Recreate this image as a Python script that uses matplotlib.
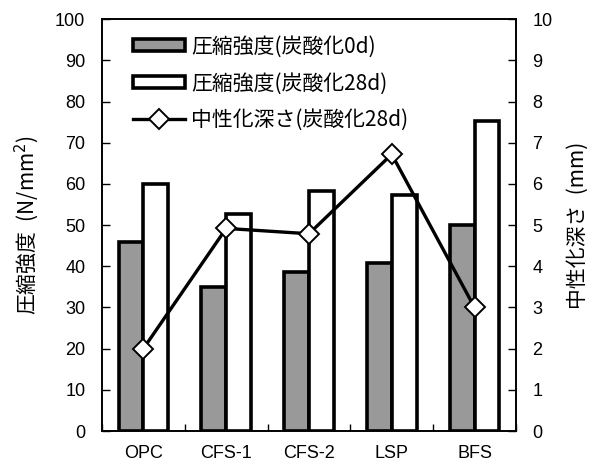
import matplotlib
matplotlib.use('Agg')
import matplotlib.pyplot as plt
import numpy as np

plt.rcParams['font.family'] = ['Noto Sans CJK JP', 'DejaVu Sans']

categories = ['OPC', 'CFS-1', 'CFS-2', 'LSP', 'BFS']
strength_0d = [46.0, 35.0, 38.7, 40.9, 50.1]
strength_28d = [60.1, 52.8, 58.3, 57.3, 75.3]
depth_28d = [2.0, 4.92, 4.79, 6.72, 3.0]

label_0d = '圧縮強度(炭酸化0d)'
label_28d = '圧縮強度(炭酸化28d)'
label_depth = '中性化深さ(炭酸化28d)'

x = np.arange(len(categories))
w = 0.30

fig = plt.figure(figsize=(5.93, 4.68), dpi=100)
ax = fig.add_axes([0.172, 0.079, 0.698, 0.880])
ax2 = ax.twinx()

b1 = ax.bar(x - w / 2, strength_0d, w, color='#999999', edgecolor='black',
            linewidth=2.6, label=label_0d)
b2 = ax.bar(x + w / 2, strength_28d, w, color='white', edgecolor='black',
            linewidth=2.6, label=label_28d)
ln, = ax2.plot(x, depth_28d, color='black', linewidth=2.4, marker='D',
               markersize=10, markerfacecolor='white', markeredgecolor='black',
               markeredgewidth=1.4, label=label_depth)

ax.set_xlim(-0.5, len(categories) - 0.5)
ax.set_ylim(0, 100)
ax2.set_ylim(0, 10)
ax.set_yticks(np.arange(0, 101, 10))
ax2.set_yticks(np.arange(0, 11, 1))

# category labels centred, tick marks at group boundaries
ax.set_xticks(x)
ax.set_xticklabels(categories, fontsize=13, family='Liberation Sans')
ax.set_xticks(np.arange(-0.5, len(categories), 1), minor=True)
ax.tick_params(axis='x', which='major', length=0, pad=10)
ax.tick_params(axis='x', which='minor', direction='in', length=5, width=1)

ax.tick_params(axis='y', direction='in', length=6, width=1, labelsize=13, pad=12)
ax2.tick_params(axis='y', direction='in', length=6, width=1, labelsize=13, pad=12)
for lbl in ax.get_yticklabels() + ax2.get_yticklabels():
    lbl.set_family('Liberation Sans')

for a in (ax, ax2):
    for s in a.spines.values():
        s.set_linewidth(1.2)

ax.set_ylabel('圧縮強度\u2002(N/mm$^2$)', fontsize=15, labelpad=10)
ax2.set_ylabel('中性化深さ\u2002(mm)', fontsize=15, labelpad=10)

ax.legend([b1, b2, ln], [label_0d, label_28d, label_depth],
          loc='upper left', bbox_to_anchor=(0.04, 0.995), frameon=False,
          fontsize=15, handlelength=2.5, handleheight=0.5,
          labelspacing=0.7, handletextpad=0.3, borderaxespad=0.3)

fig.savefig('out.png', dpi=100)
